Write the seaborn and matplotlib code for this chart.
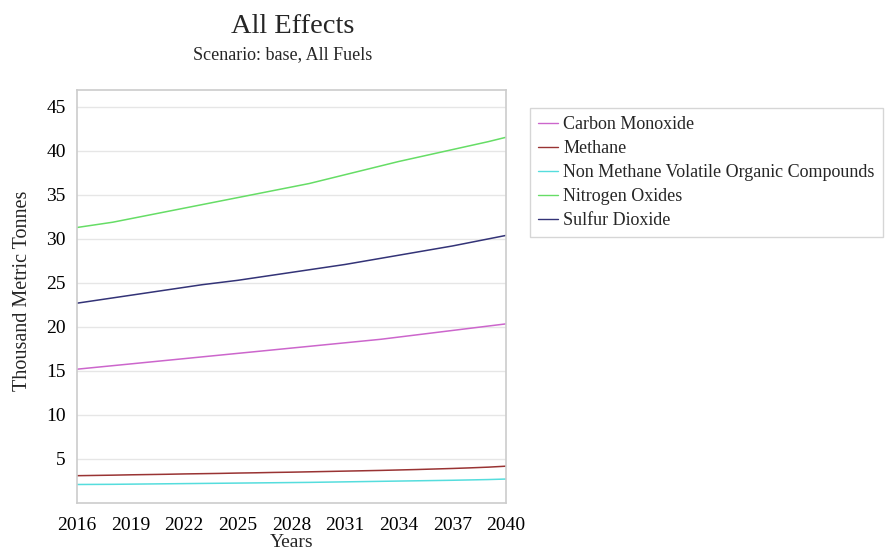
import pandas as pd
import matplotlib.pyplot as plt
import seaborn as sns

years = list(range(2016, 2041))

carbon_monoxide = [15.2, 15.4, 15.6, 15.8, 16.0, 16.2, 16.4, 16.6, 16.8, 17.0, 17.2, 17.4, 17.6,
                   17.8, 18.0, 18.2, 18.4, 18.6, 18.85, 19.1, 19.35, 19.6, 19.85, 20.1, 20.35]
methane = [3.1, 3.13, 3.16, 3.2, 3.23, 3.26, 3.3, 3.33, 3.36, 3.4, 3.43, 3.47, 3.5,
           3.54, 3.58, 3.62, 3.66, 3.7, 3.75, 3.8, 3.86, 3.92, 3.99, 4.07, 4.18]
nmvoc = [2.1, 2.11, 2.12, 2.14, 2.16, 2.18, 2.2, 2.22, 2.24, 2.26, 2.28, 2.3, 2.32,
         2.34, 2.37, 2.4, 2.43, 2.46, 2.49, 2.52, 2.55, 2.58, 2.62, 2.66, 2.72]
nitrogen_oxides = [31.3, 31.6, 31.9, 32.3, 32.7, 33.1, 33.5, 33.9, 34.3, 34.7, 35.1, 35.5, 35.9,
                   36.3, 36.8, 37.3, 37.8, 38.3, 38.8, 39.25, 39.7, 40.15, 40.6, 41.05, 41.55]
sulfur_dioxide = [22.7, 23.0, 23.3, 23.6, 23.9, 24.2, 24.5, 24.8, 25.05, 25.3, 25.6, 25.9, 26.2,
                  26.5, 26.8, 27.1, 27.45, 27.8, 28.15, 28.5, 28.85, 29.2, 29.6, 30.0, 30.4]

series_names = ['Carbon Monoxide', 'Methane', 'Non Methane Volatile Organic Compounds',
                'Nitrogen Oxides', 'Sulfur Dioxide']
colors = ['#cc66cc', '#993333', '#55dddd', '#66dd66', '#333377']

# Long-form table for seaborn
frames = []
for name, vals in zip(series_names, [carbon_monoxide, methane, nmvoc, nitrogen_oxides, sulfur_dioxide]):
    frames.append(pd.DataFrame({'Years': years, 'value': vals, 'Effect': name}))
df = pd.concat(frames, ignore_index=True)

sns.set_theme(style='white')
plt.rcParams['font.family'] = ['Liberation Serif', 'DejaVu Serif']

fig = plt.figure(figsize=(8.91, 5.50), dpi=100)
ax = fig.add_axes([0.0864, 0.0855, 0.4815, 0.7505])

sns.lineplot(data=df, x='Years', y='value', hue='Effect', hue_order=series_names,
             palette=colors, linewidth=1.1, ax=ax)

ax.set_xlim(2016, 2040)
ax.set_ylim(0, 46.9)
ax.set_xticks(range(2016, 2041, 3))
ax.set_yticks(range(5, 46, 5))
ax.grid(axis='y', color='#e6e6e6', linewidth=1)
for s in ax.spines.values():
    s.set_color('#cccccc')
    s.set_linewidth(1.2)
ax.tick_params(axis='both', labelsize=14, colors='#cccccc', labelcolor='black', width=1)
ax.tick_params(axis='x', length=6, pad=4)
ax.tick_params(axis='y', length=2, pad=6)
ax.set_xlabel('Years', fontsize=14, labelpad=0)
ax.set_ylabel('Thousand Metric Tonnes', fontsize=14.5)
ax.yaxis.set_label_coords(-0.105, 0.515)

fig.text(0.328, 0.940, 'All Effects', ha='center', va='baseline', fontsize=20.5)
fig.text(0.317, 0.893, 'Scenario: base, All Fuels', ha='center', va='baseline', fontsize=13)

leg = ax.legend(loc='upper left', bbox_to_anchor=(0.5948, 0.8036), bbox_transform=fig.transFigure,
                frameon=True, fontsize=13, handlelength=1.1, handletextpad=0.3,
                labelspacing=0.39, borderaxespad=0, fancybox=False, borderpad=0.45)
leg.get_frame().set_edgecolor('#cccccc')
leg.get_frame().set_linewidth(1)
for line in leg.get_lines():
    line.set_linewidth(1.0)

fig.savefig('out.png', dpi=100)
